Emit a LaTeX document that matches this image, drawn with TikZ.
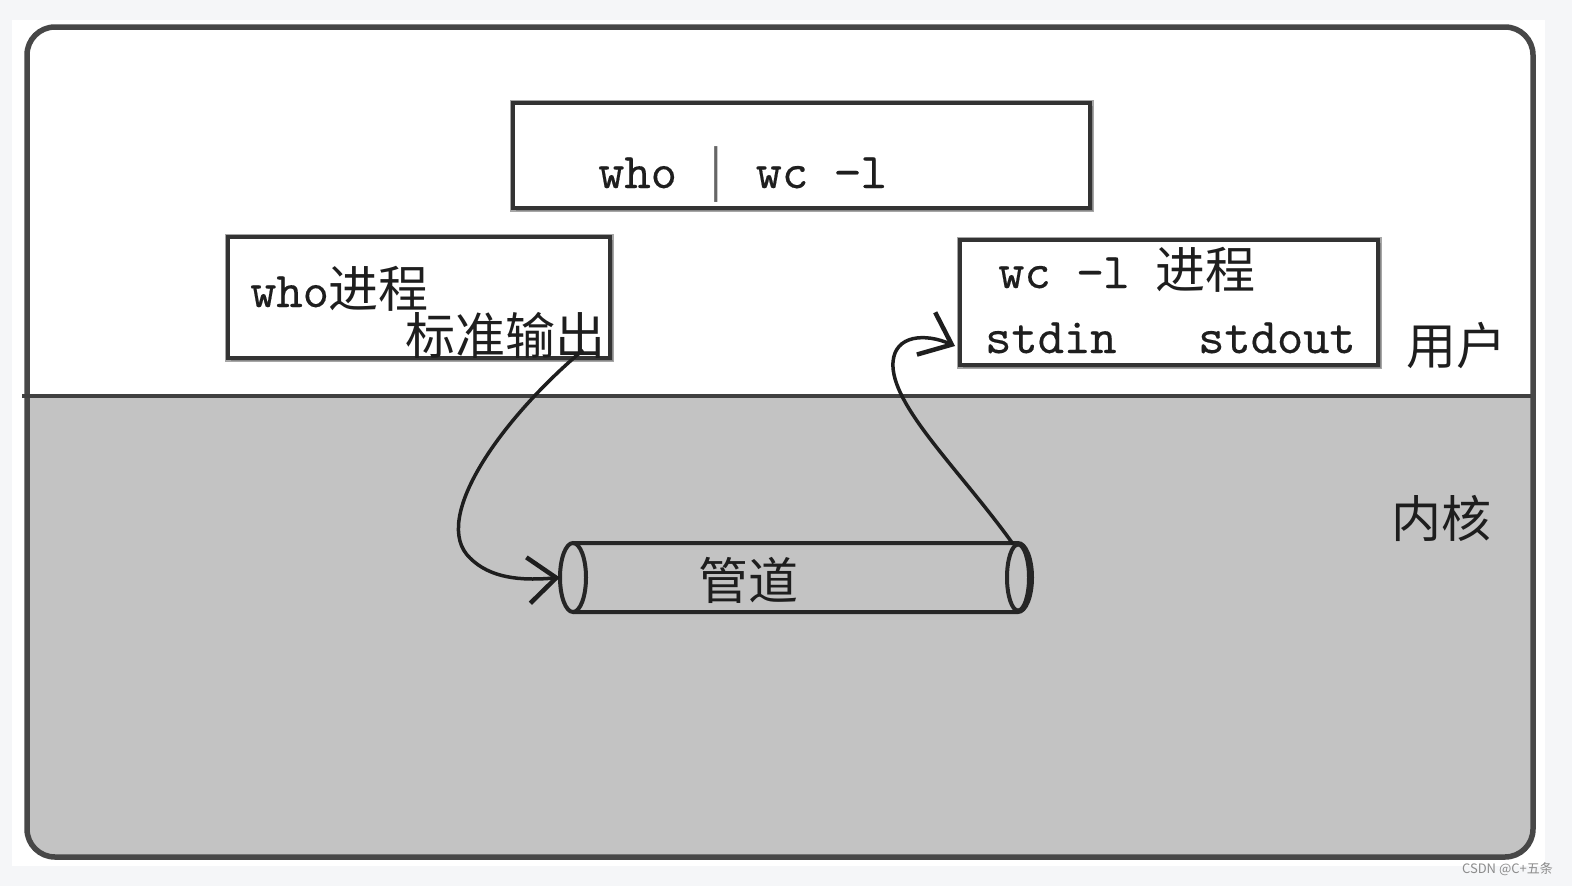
\documentclass[tikz,border=0pt]{standalone}
\usepackage{fontspec}
\setmainfont{Liberation Serif}
\newfontfamily\myMono[Extension=.otf, FakeBold=0.25]{lmmono10-regular}
\newfontfamily\myCJK{Noto Sans CJK SC}
\usetikzlibrary{arrows.meta,shadows}
\definecolor{pagebg}{HTML}{F5F6F8}
\definecolor{kgray}{HTML}{C3C3C3}
\definecolor{ink}{HTML}{1E1E1E}
\begin{document}
\begin{tikzpicture}[x=1pt,y=-1pt,
 pbox/.style={draw=black!80, line width=3.5pt, fill=white, inner sep=0pt,
   preaction={draw=black!35, line width=7pt},
   drop shadow={shadow xshift=2.5pt, shadow yshift=-3pt, fill=black!55, opacity=0.6}},
 lat/.style={font=\myMono\fontsize{50}{56}\selectfont, text=ink, inner sep=0pt, anchor=base west},
 zh/.style={font=\myCJK\fontsize{50}{56}\selectfont, text=ink, inner sep=0pt},
 flow/.style={draw=ink, line width=3.5pt, -{Straight Barb[length=28pt,width=46pt,line width=4.5pt]}},
 pipeline/.style={draw=black!85, line width=4pt},
]
\path[fill=pagebg] (0,0) rectangle (1572,886);
\path[fill=white] (12,20) rectangle (1545,866);
\begin{scope}
\clip[rounded corners=28pt] (27,27) rectangle (1533,857);
\fill[kgray] (0,396) rectangle (1572,886);
\end{scope}
\draw[line width=5.5pt, draw=black!72, rounded corners=28pt] (27,27) rectangle (1533,857);
\draw[line width=4.5pt, draw=black!75] (22,396) -- (1531,396);

\node[pbox, minimum width=577pt, minimum height=105pt] (cmdbox) at (801.5,155.5) {};
\node[pbox, minimum width=382pt, minimum height=121pt] (whobox) at (419,297.5) {};
\node[pbox, minimum width=418pt, minimum height=125pt] (wcbox) at (1169,302.5) {};

\node[lat] (cmd) at (598,188) {who \makebox[26.25pt][c]{\color{black!60}\myCJK\fontsize{50}{56}\selectfont |} wc −l};
\node[lat] (whot) at (250,307) {who{\myCJK\fontsize{50}{56}\selectfont 进程}};
\node[zh] (stdo) at (505,335) {标准输出};
\node[lat] (wct) at (998,288) {wc −l {\myCJK\fontsize{50}{56}\selectfont 进程}};
\node[lat] (stdin) at (985,353) {stdin};
\node[lat] (stdout) at (1198,353) {stdout};
\node[zh] (user) at (1456,346) {用户};
\node[zh] (kern) at (1441,518) {内核};

\node[minimum width=472pt, minimum height=70pt, inner sep=0pt] (pipe) at (796,577.5) {};
\draw[pipeline] (573,543) -- (1018,543) arc[start angle=90,end angle=-90,x radius=14pt,y radius=34.5pt] -- (573,612);
\draw[pipeline] (573,577.5) ellipse[x radius=13pt, y radius=34.5pt];
\draw[pipeline] (1018,577.5) ellipse[x radius=11pt, y radius=33pt];
\node[zh] (pipet) at (748,580) {管道};

\coordinate (o1) at (583,350);
\coordinate (i1) at (1013,544);
\coordinate (inpt) at (955,346);
\draw[flow] (o1) .. controls (500,420) and (430,520) .. (470,558) .. controls (490,578) and (520,581) .. (pipe.west);
\draw[flow] (i1) .. controls (960,470) and (890,405) .. (893,362) .. controls (895,335) and (925,333) .. (inpt);

\node[font=\myCJK\fontsize{13}{15}\selectfont, text=black!45, anchor=east, inner sep=0pt] (wm) at (1553,869) {CSDN @C+五条};
\end{tikzpicture}
\end{document}
